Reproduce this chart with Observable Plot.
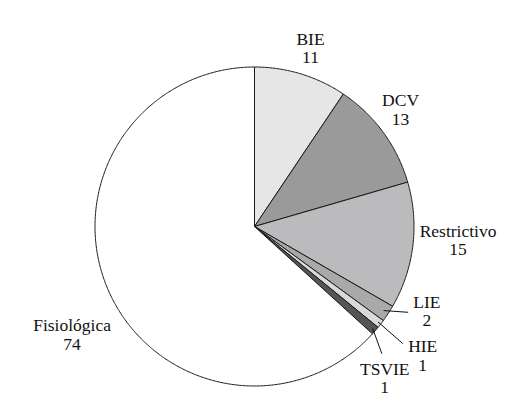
<!DOCTYPE html>
<html>
<head>
<meta charset="utf-8">
<script src="https://cdn.jsdelivr.net/npm/d3@7"></script>
<script src="https://cdn.jsdelivr.net/npm/@observablehq/plot@0.6"></script>
<style>
  html, body { margin: 0; padding: 0; background: #fff; }
  #chart svg { display: block; }
  #chart svg text { font-family: "Liberation Serif", "Times New Roman", "DejaVu Serif", serif !important; }
</style>
</head>
<body>
<div id="chart"></div>
<script>
// Data (clockwise from 12 o'clock)
const categories = ["BIE", "DCV", "Restrictivo", "LIE", "HIE", "TSVIE", "Fisiológica"];
const values = [11, 13, 15, 2, 1, 1, 74];
const colors = ["#e6e6e6", "#9a9a9a", "#bbbbbd", "#a9a9a9", "#dadada", "#555555", "#ffffff"];

// Layout config
const W = 512, H = 407;
const CX = 254, CY = 226, R = 159.5;
// label placement: [radius, angle nudge (deg)]
const labelPlace = {
  "BIE": [187, 0.5],
  "DCV": [187, -2.5],
  "Restrictivo": [204, -3.1],
  "LIE": [192, -7.0],
  "HIE": [212, -0.2],
  "TSVIE": [200, 8.6],
  "Fisiológica": [212, -6.8]
};
// leader lines for small slices: [start radius, end radius, end angle nudge (deg)]
const leaders = {
  "LIE": [154, 176, -3.9],
  "HIE": [156, 189, 0.6],
  "TSVIE": [156, 180, 4.2]
};

const total = d3.sum(values);
let acc = 0;
const slices = categories.map((c, i) => {
  const a0 = acc / total * 2 * Math.PI;
  acc += values[i];
  const a1 = acc / total * 2 * Math.PI;
  return {cat: c, value: values[i], color: colors[i], a0, a1, mid: (a0 + a1) / 2};
});

// polar -> plot coords (y up), angle measured clockwise from top
const px = (r, a) => r * Math.sin(a);
const py = (r, a) => r * Math.cos(a);
const rad = d => d * Math.PI / 180;

const polyPts = [];
for (const s of slices) {
  const n = Math.max(2, Math.ceil((s.a1 - s.a0) / rad(1) * 2));
  polyPts.push({cat: s.cat, color: s.color, x: 0, y: 0});
  for (let k = 0; k <= n; k++) {
    const a = s.a0 + (s.a1 - s.a0) * k / n;
    polyPts.push({cat: s.cat, color: s.color, x: px(R, a), y: py(R, a)});
  }
  polyPts.push({cat: s.cat, color: s.color, x: 0, y: 0});
}

const labels = slices.map(s => {
  const [r, nud] = labelPlace[s.cat];
  const a = s.mid + rad(nud);
  return {cat: s.cat, value: s.value, x: px(r, a), y: py(r, a)};
});

const leaderSegs = [];
for (const s of slices) {
  if (!leaders[s.cat]) continue;
  const [r0, r1, dAng] = leaders[s.cat];
  const a1 = s.mid + rad(dAng);
  leaderSegs.push({cat: s.cat, x1: px(r0, s.mid), y1: py(r0, s.mid), x2: px(r1, a1), y2: py(r1, a1)});
}

const chart = Plot.plot({
  width: W,
  height: H,
  margin: 0,
  x: {domain: [-CX, W - CX], axis: null},
  y: {domain: [-(H - CY), CY], axis: null},
  style: {fontFamily: "'Liberation Serif', 'Times New Roman', serif", background: "#fff"},
  marks: [
    Plot.line(polyPts, {x: "x", y: "y", z: "cat", fill: "color", stroke: "#1a1a1a", strokeWidth: 1, strokeLinejoin: "round", curve: "linear"}),
    Plot.link(leaderSegs, {x1: "x1", y1: "y1", x2: "x2", y2: "y2", stroke: "#111", strokeWidth: 1}),
    Plot.text(labels, {x: "x", y: "y", text: d => `${d.cat}\n${d.value}`, fontSize: 17.5, lineHeight: 1.05, fill: "#111", textAnchor: "middle", fontFamily: "Liberation Serif"})
  ]
});
document.getElementById("chart").appendChild(chart);
</script>
</body>
</html>
